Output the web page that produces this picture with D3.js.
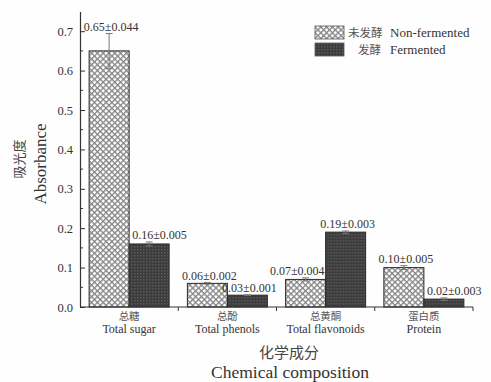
<!DOCTYPE html>
<html>
<head>
<meta charset="utf-8">
<script src="https://cdn.jsdelivr.net/npm/d3@7"></script>
<style>
  html, body { margin: 0; padding: 0; background: #fefefe; }
  svg { display: block; }
</style>
</head>
<body>
<svg id="chart" width="491" height="382"></svg>
<script>
// Absorbance of the main chemical components, before and after fermentation
const categoriesZh = ["总糖", "总酚", "总黄酮", "蛋白质"];
const categoriesEn = ["Total sugar", "Total phenols", "Total flavonoids", "Protein"];
const seriesNames = ["nonFermented", "fermented"];
const nonFermented = [0.65, 0.06, 0.07, 0.10];
const nonFermentedErr = [0.044, 0.002, 0.004, 0.005];
const fermented = [0.16, 0.03, 0.19, 0.02];
const fermentedErr = [0.005, 0.001, 0.003, 0.003];
const yTicks = [0.0, 0.1, 0.2, 0.3, 0.4, 0.5, 0.6, 0.7];
const yMinorTicks = [0.05, 0.15, 0.25, 0.35, 0.45, 0.55, 0.65];
const legendZh = ["未发酵", "发酵"];
const legendEn = ["Non-fermented", "Fermented"];

const svg = d3.select("#chart");
const serif = "'Liberation Serif', 'Times New Roman', serif";
const cjk = "'Noto Sans CJK SC', sans-serif";
const ink = "#333";

const plotLeft = 80, plotRight = 473, plotTop = 11.5, plotBottom = 307;

const x = d3.scaleBand().domain(d3.range(categoriesEn.length)).range([plotLeft, plotRight]).padding(0);
const xs = d3.scaleBand().domain(seriesNames).range([0, x.bandwidth()])
  .paddingInner(0).paddingOuter(0.228);
const y = d3.scaleLinear().domain([0, 0.75]).range([plotBottom, plotTop]);

// fill patterns
const defs = svg.append("defs");
const hatch = defs.append("pattern").attr("id", "hatch")
  .attr("patternUnits", "userSpaceOnUse").attr("width", 4.1).attr("height", 4.1)
  .attr("patternTransform", "rotate(45)");
hatch.append("rect").attr("width", 4.1).attr("height", 4.1).attr("fill", "#fdfdfd");
hatch.append("rect").attr("x", 0).attr("y", 0).attr("width", 1.3).attr("height", 4.1).attr("fill", "#858585");
hatch.append("rect").attr("x", 0).attr("y", 0).attr("width", 4.1).attr("height", 1.3).attr("fill", "#858585");

const dots = defs.append("pattern").attr("id", "dots")
  .attr("patternUnits", "userSpaceOnUse").attr("width", 3).attr("height", 3);
dots.append("rect").attr("width", 3).attr("height", 3).attr("fill", "#3c3c3c");
dots.append("rect").attr("width", 1.5).attr("height", 1.5).attr("fill", "#595959");

const fills = { nonFermented: "url(#hatch)", fermented: "url(#dots)" };

const rows = categoriesEn.map((c, i) => ({
  i,
  bars: [
    { key: "nonFermented", v: nonFermented[i], e: nonFermentedErr[i], other: fermented[i] },
    { key: "fermented", v: fermented[i], e: fermentedErr[i], other: nonFermented[i] }
  ]
}));

// bars
const groups = svg.append("g").selectAll("g").data(rows).join("g")
  .attr("transform", d => `translate(${x(d.i)},0)`);

groups.selectAll("rect").data(d => d.bars).join("rect")
  .attr("x", d => xs(d.key))
  .attr("y", d => y(d.v))
  .attr("width", xs.bandwidth())
  .attr("height", d => y(0) - y(d.v))
  .attr("fill", d => fills[d.key])
  .attr("stroke", "#2a2a2a")
  .attr("stroke-width", 1);

// error bars
const cx = d => xs(d.key) + xs.bandwidth() / 2;
const err = groups.selectAll("g.err").data(d => d.bars).join("g").attr("class", "err");
err.append("line")
  .attr("x1", cx).attr("x2", cx)
  .attr("y1", d => y(d.v + d.e)).attr("y2", d => y(d.v - d.e))
  .attr("stroke", "#777").attr("stroke-width", 1);
err.append("line")
  .attr("x1", d => cx(d) - 3.5).attr("x2", d => cx(d) + 3.5)
  .attr("y1", d => y(d.v + d.e)).attr("y2", d => y(d.v + d.e))
  .attr("stroke", "#777").attr("stroke-width", 1);
err.append("line")
  .attr("x1", d => cx(d) - 3.5).attr("x2", d => cx(d) + 3.5)
  .attr("y1", d => y(d.v - d.e)).attr("y2", d => y(d.v - d.e))
  .attr("stroke", "#777").attr("stroke-width", 1);

// value labels: centred over the bar, or pushed away from a taller neighbour bar
const labelY = d => y(d.v + d.e) - 3;
const blocked = d => y(d.other) < labelY(d) - 10;
groups.selectAll("text.val").data(d => d.bars).join("text").attr("class", "val")
  .attr("x", d => {
    if (!blocked(d)) return cx(d) + 2;
    return d.key === "fermented" ? xs(d.key) + 3 : xs(d.key) + xs.bandwidth() - 1;
  })
  .attr("y", labelY)
  .attr("text-anchor", d => !blocked(d) ? "middle" : (d.key === "fermented" ? "start" : "end"))
  .attr("font-family", serif).attr("font-size", 12).attr("fill", ink)
  .text(d => `${d.v.toFixed(2)}±${d.e.toFixed(3)}`);

// y axis
const yAxis = svg.append("g").attr("transform", `translate(${plotLeft},0)`)
  .call(d3.axisLeft(y).tickValues(yTicks).tickFormat(d3.format(".1f")).tickSizeInner(-5).tickSizeOuter(0).tickPadding(7));
yAxis.select(".domain").attr("stroke", ink).attr("stroke-width", 1.2);
yAxis.selectAll(".tick line").attr("stroke", ink);
yAxis.selectAll(".tick text").attr("font-family", serif).attr("font-size", 12.5).attr("fill", ink);
svg.append("g").selectAll("line").data(yMinorTicks).join("line")
  .attr("x1", plotLeft).attr("x2", plotLeft + 3)
  .attr("y1", d => y(d)).attr("y2", d => y(d))
  .attr("stroke", ink);

// x axis
const xAxis = svg.append("g").attr("transform", `translate(0,${plotBottom})`);
xAxis.append("line").attr("x1", plotLeft).attr("x2", plotRight).attr("y1", 0).attr("y2", 0)
  .attr("stroke", ink).attr("stroke-width", 1.2);
xAxis.selectAll("line.tk").data(d3.range(1, categoriesEn.length + 1)).join("line").attr("class", "tk")
  .attr("x1", d => x(d - 1) + x.bandwidth()).attr("x2", d => x(d - 1) + x.bandwidth())
  .attr("y1", 0).attr("y2", 4).attr("stroke", ink);
xAxis.selectAll("text.zh").data(categoriesZh).join("text").attr("class", "zh")
  .attr("x", (d, i) => x(i) + x.bandwidth() / 2).attr("y", 13)
  .attr("text-anchor", "middle").attr("font-family", cjk).attr("font-size", 10.5).attr("fill", "#555")
  .text(d => d);
xAxis.selectAll("text.en").data(categoriesEn).join("text").attr("class", "en")
  .attr("x", (d, i) => x(i) + x.bandwidth() / 2).attr("y", 26)
  .attr("text-anchor", "middle").attr("font-family", serif).attr("font-size", 12).attr("fill", ink)
  .text(d => d);

// axis titles
svg.append("text").attr("x", 289).attr("y", 358).attr("text-anchor", "middle")
  .attr("font-family", cjk).attr("font-size", 15).attr("fill", "#444").text("化学成分");
svg.append("text").attr("x", 290).attr("y", 378).attr("text-anchor", "middle")
  .attr("font-family", serif).attr("font-size", 17.5).attr("fill", ink).text("Chemical composition");
svg.append("text").attr("transform", "translate(24,159) rotate(-90)").attr("text-anchor", "middle")
  .attr("font-family", cjk).attr("font-size", 13).attr("fill", "#444").text("吸光度");
svg.append("text").attr("transform", "translate(46,164) rotate(-90)").attr("text-anchor", "middle")
  .attr("font-family", serif).attr("font-size", 17).attr("fill", ink).text("Absorbance");

// legend
const legend = svg.append("g").attr("transform", "translate(315,26)");
const li = legend.selectAll("g").data(seriesNames).join("g")
  .attr("transform", (d, i) => `translate(0,${i * 17})`);
li.append("rect").attr("width", 29).attr("height", 13)
  .attr("fill", d => fills[d]).attr("stroke", "#555").attr("stroke-width", 0.8);
li.append("text").attr("x", (d, i) => i === 0 ? 33 : 43).attr("y", 11)
  .attr("font-family", cjk).attr("font-size", 11.5).attr("fill", "#555")
  .text((d, i) => legendZh[i]);
li.append("text").attr("x", 75).attr("y", 11)
  .attr("font-family", serif).attr("font-size", 13).attr("fill", ink)
  .text((d, i) => legendEn[i]);
</script>
</body>
</html>
